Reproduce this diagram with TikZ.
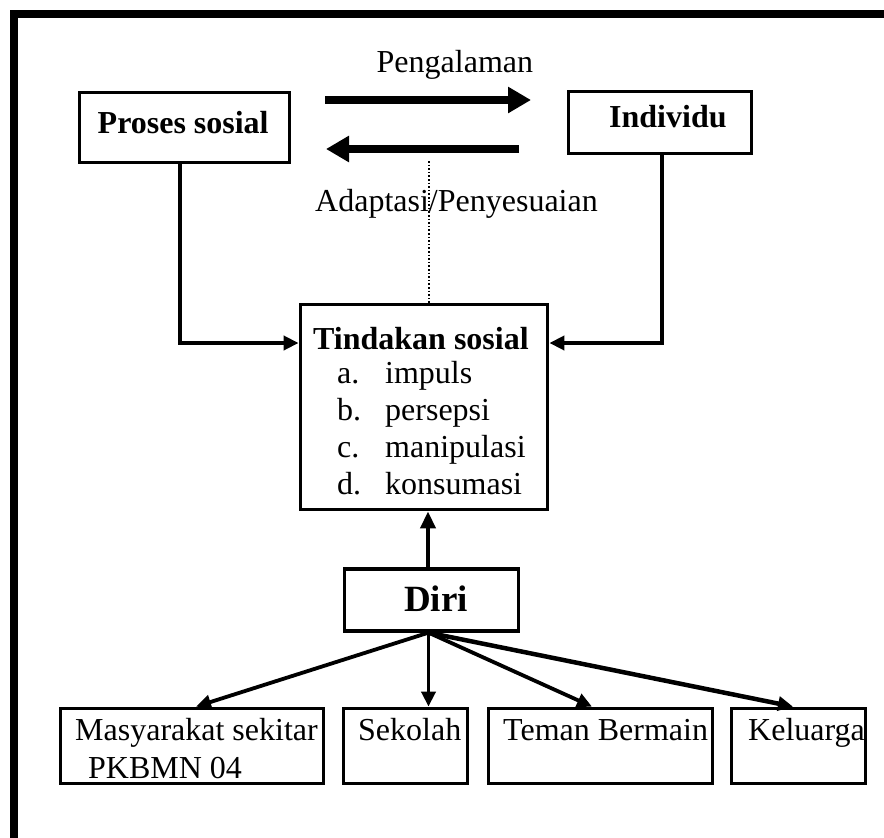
\documentclass[tikz,border=0pt]{standalone}
\usepackage{fontspec}
\setmainfont{Liberation Serif}
\usetikzlibrary{arrows.meta}
\begin{document}
\begin{tikzpicture}[x=1pt,y=-1pt,
  box/.style={draw, line width=3.8pt, inner sep=0pt, rectangle},
  txt/.style={inner sep=0pt, anchor=base west, font=\fontsize{32}{36}\selectfont},
  btxt/.style={inner sep=0pt, anchor=base west, font=\fontsize{32}{36}\selectfont\bfseries},
  conn/.style={line width=3.8pt, -{Triangle[length=15pt,width=14pt]}},
  fat/.style={line width=8pt, -{Triangle[length=23pt,width=25pt]}},
  frame/.style={line width=8pt, line join=miter}
]
\useasboundingbox (0,0) rectangle (884,838);
% outer frame (right and bottom sides lie outside the picture)
\coordinate (fA) at (14,900);
\coordinate (fB) at (14,14);
\coordinate (fC) at (950,14);
\draw[frame] (fA) -- (fB) -- (fC);

% boxes
\node[box, minimum width=210pt, minimum height=70pt] (proses) at (184.5,127.5) {};
\node[box, minimum width=183pt, minimum height=62pt] (individu) at (660,122.5) {};
\node[box, minimum width=247pt, minimum height=205pt] (tindakan) at (424,407) {};
\node[box, minimum width=174pt, minimum height=61.5pt] (diri) at (431.5,600) {};
\node[box, minimum width=263pt, minimum height=75pt] (masy) at (192,746) {};
\node[box, minimum width=124pt, minimum height=75pt] (sekolah) at (405.5,746) {};
\node[box, minimum width=224pt, minimum height=75pt] (teman) at (600.5,746) {};
\node[box, minimum width=134pt, minimum height=75pt] (keluarga) at (798.5,746) {};

% texts
\node[btxt] (tProses) at (97.5,133) {Proses sosial};
\node[btxt] (tIndividu) at (609,127) {Individu};
\node[txt] (tPeng) at (376.5,72) {Pengalaman};
\node[txt] (tAdapt) at (315,211) {Adaptasi/Penyesuaian};
\node[btxt] (tTind) at (313,349) {Tindakan sosial};
\node[txt] (la) at (337,383) {a.};
\node[txt] (ia) at (385,383) {impuls};
\node[txt] (lb) at (337,420) {b.};
\node[txt] (ib) at (385,420) {persepsi};
\node[txt] (lc) at (337,457) {c.};
\node[txt] (ic) at (385,457) {manipulasi};
\node[txt] (ld) at (337,494) {d.};
\node[txt] (id) at (385,494) {konsumasi};
\node[inner sep=0pt, anchor=base west, font=\fontsize{37}{40}\selectfont\bfseries] (tDiri) at (404,611) {Diri};
\node[txt] (tMasy1) at (75,740) {Masyarakat sekitar};
\node[txt] (tMasy2) at (88,778) {PKBMN 04};
\node[txt] (tSek) at (358,740) {Sekolah};
\node[txt] (tTem) at (503,740) {Teman Bermain};
\node[txt] (tKel) at (748,740) {Keluarga};

% thick exchange arrows
\coordinate (pA) at (325,100);
\coordinate (pB) at (531,100);
\coordinate (aA) at (519,149);
\coordinate (aB) at (326,149);
\draw[fat] (pA) -- (pB);
\draw[fat] (aA) -- (aB);

% dotted line
\coordinate (dTop) at (429,161);
\draw[line width=1.6pt, dotted] (dTop) -- (dTop |- tindakan.north);

% connectors to Tindakan sosial
\draw[conn] ([xshift=-4.5pt]proses.south) |- ([yshift=64pt]tindakan.west);
\draw[conn] ([xshift=2pt]individu.south) |- ([yshift=64pt]tindakan.east);
\draw[conn, -{Triangle[length=17pt,width=15pt]}] ([xshift=-3.5pt]diri.north) -- ([xshift=-3.5pt]diri.north |- tindakan.south);

% Diri to bottom boxes
\coordinate (dS) at ([xshift=-3pt]diri.south);
\draw[conn] (dS) -- ([xshift=4pt]masy.north);
\draw[conn] (dS) -- (dS |- sekolah.north);
\draw[conn] (dS) -- ([xshift=-8.5pt]teman.north);
\draw[conn, line width=4.5pt] (dS) -- ([xshift=-5.5pt]keluarga.north);
\end{tikzpicture}
\end{document}
